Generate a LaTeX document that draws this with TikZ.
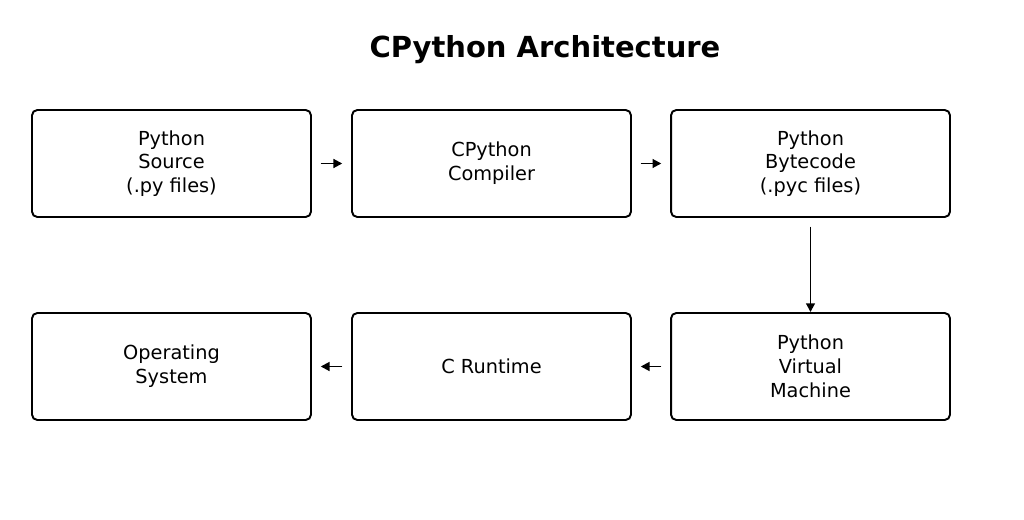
\documentclass[tikz,border=0pt]{standalone}
\usepackage{fontspec}
\setmainfont{DejaVu Sans}
\usetikzlibrary{arrows.meta}
\begin{document}
\begin{tikzpicture}[x=0.02cm, y=-0.02cm,
    box/.style={draw, line width=1.1pt, rounded corners=3pt, minimum width=5.58cm,
      minimum height=2.14cm, align=center, font=\fontsize{11}{13.5}\selectfont},
    flow/.style={-{Triangle[length=5pt,width=5pt]}, line width=1.1pt}
  ]
  \useasboundingbox (0,0) rectangle (1024,520);
  \node[font=\fontsize{16.5}{20}\selectfont\bfseries] (title) at (545,50) {CPython Architecture};

  % top row
  \node[box] (src) at (171.5,163.5) {Python\\Source\\(.py files)};
  \node[box] (comp) at (491.5,163.5) {CPython\\Compiler};
  \node[box] (bc) at (810.5,163.5) {Python\\Bytecode\\(.pyc files)};

  % bottom row
  \node[box] (vm) at (810.5,366.5) {Python\\Virtual\\Machine};
  \node[box] (crt) at (491.5,366.5) {C Runtime};
  \node[box] (os) at (171.5,366.5) {Operating\\System};

  \draw[flow, shorten <=5pt, shorten >=5pt] (src) -- (comp);
  \draw[flow, shorten <=5pt, shorten >=5pt] (comp) -- (bc);
  \draw[flow, shorten <=5pt] (bc) -- (vm);
  \draw[flow, shorten <=5pt, shorten >=5pt] (vm) -- (crt);
  \draw[flow, shorten <=5pt, shorten >=5pt] (crt) -- (os);
\end{tikzpicture}
\end{document}
